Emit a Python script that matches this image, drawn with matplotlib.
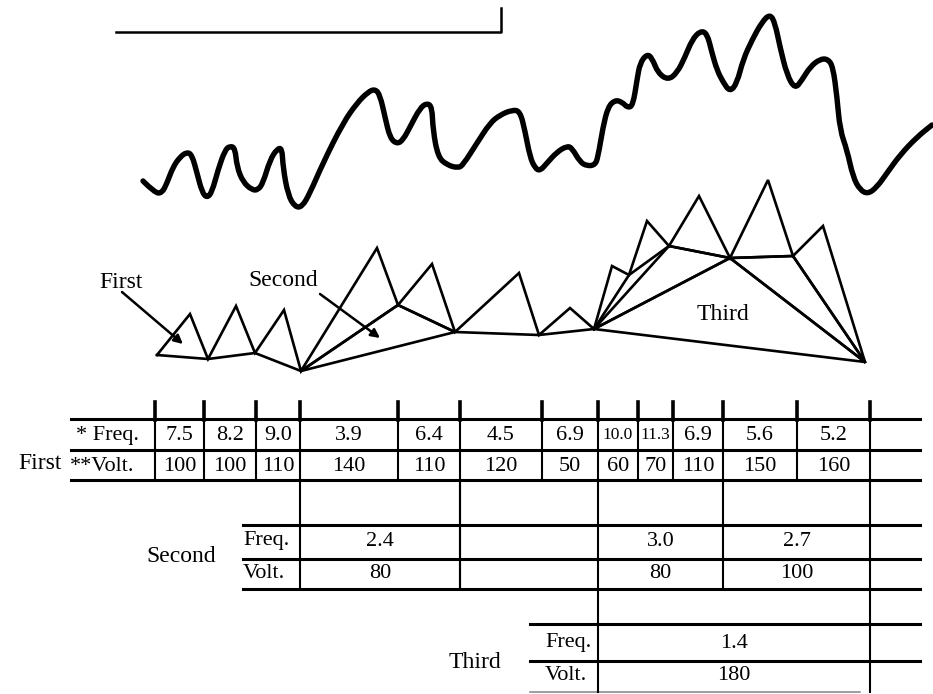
import matplotlib
matplotlib.use("Agg")
import matplotlib.pyplot as plt
from matplotlib.path import Path
from matplotlib.patches import PathPatch

plt.rcParams['font.family'] = ['Liberation Serif', 'DejaVu Serif']

# traced EEG waveform (pixel coordinates of the page)
wave_x = [143, 155, 162, 167, 173, 180, 187, 192, 197, 202, 207, 212, 218, 225, 230, 235,
          237, 243, 252, 258, 263, 270, 277, 282, 283, 288, 295, 302, 310, 323, 343, 357,
          368, 375, 380, 385, 390, 397, 403, 410, 420, 427, 432, 433, 438, 447, 458, 463,
          477, 490, 500, 512, 520, 525, 530, 535, 540, 547, 557, 567, 572, 580, 587, 595,
          598, 603, 608, 615, 622, 628, 633, 637, 640, 647, 652, 658, 668, 677, 685, 692,
          700, 707, 712, 717, 723, 730, 737, 743, 752, 762, 770, 775, 780, 787, 795, 802,
          810, 820, 828, 833, 837, 840, 847, 853, 860, 868, 877, 887, 900, 917, 932]
wave_y = [181, 193, 193, 183, 167, 157, 152, 155, 173, 192, 198, 192, 170, 150, 146, 148,
          167, 182, 190, 190, 183, 160, 149, 148, 167, 195, 207, 207, 193, 163, 123, 103,
          92, 89, 95, 117, 138, 144, 140, 127, 108, 103, 107, 130, 157, 165, 168, 165,
          143, 123, 115, 110, 111, 131, 157, 168, 171, 163, 152, 146, 148, 162, 166, 165,
          157, 127, 107, 100, 102, 108, 105, 80, 63, 54, 58, 73, 80, 73, 57, 40,
          31, 33, 53, 70, 82, 92, 83, 60, 40, 22, 14, 23, 47, 75, 89, 80,
          67, 59, 59, 67, 97, 130, 150, 177, 190, 194, 187, 173, 155, 137, 125]

# first-level zigzag: valley, peak, valley, ... (13 valleys, 12 peaks)
zig_x = [157, 190, 208, 236, 255, 284, 301, 377, 398, 432, 455, 519, 539,
         570, 594, 612, 629, 647, 669, 699, 730, 768, 793, 823, 865]
zig_y = [355, 314, 359, 306, 353, 310, 371, 248, 305, 264, 332, 273, 335,
         308, 329, 266, 275, 221, 246, 196, 258, 180, 256, 226, 362]

# higher-level waves as (start, apex, end) valley indices
second_waves = [(3, 4, 5), (7, 9, 10), (10, 11, 12)]
third_waves = [(7, 10, 12)]

# table
edges = [155, 204, 256, 300, 398, 460, 542, 598, 638, 673, 723, 797, 870]
first_freq = ['7.5', '8.2', '9.0', '3.9', '6.4', '4.5', '6.9', '10.0', '11.3', '6.9', '5.6', '5.2']
first_volt = ['100', '100', '110', '140', '110', '120', '50', '60', '70', '110', '150', '160']
second_freq = ['2.4', '3.0', '2.7']
second_volt = ['80', '80', '100']
third_freq = ['1.4']
third_volt = ['180']

fig = plt.figure(figsize=(9.33, 6.94), dpi=100)
ax = fig.add_axes([0, 0, 1, 1])
ax.set_xlim(0, 933)
ax.set_ylim(694, 0)
ax.axis('off')
k = 'black'

# scale bar
ax.plot([116, 501, 501], [32, 32, 8], color=k, lw=1.8)

# waveform, drawn as a smooth quadratic path through the traced points
pts = list(zip(wave_x, wave_y))
verts, codes = [pts[0]], [Path.MOVETO]
for p, q in zip(pts[1:-1], pts[2:]):
    verts += [p, ((p[0] + q[0]) / 2, (p[1] + q[1]) / 2)]
    codes += [Path.CURVE3, Path.CURVE3]
verts.append(pts[-1])
codes.append(Path.LINETO)
ax.add_patch(PathPatch(Path(verts, codes), fill=False, edgecolor=k, lw=3.9,
                       joinstyle='round', capstyle='round'))

# first level triangles and bases
tri = dict(color=k, lw=1.9, solid_joinstyle='miter')
ax.plot(zig_x, zig_y, **tri)
ax.plot(zig_x[::2], zig_y[::2], **tri)
vx, vy = zig_x[::2], zig_y[::2]
for waves in (second_waves, third_waves):
    for a, b, c in waves:
        ax.plot([vx[a], vx[b], vx[c], vx[a]], [vy[a], vy[b], vy[c], vy[a]], **tri)

lab = dict(fontsize=17, ha='center', va='center')
ax.text(121, 282, 'First', **lab)
ax.text(283, 280, 'Second', **lab)
ax.text(723, 314, 'Third', **lab)
arr = dict(arrowstyle='-|>', color=k, lw=1.8, mutation_scale=13, shrinkA=0, shrinkB=0)
ax.annotate('', xy=(183, 344), xytext=(122, 292), arrowprops=arr)
ax.annotate('', xy=(380, 338), xytext=(320, 294), arrowprops=arr)

# ---- table ----
hl = dict(color=k, lw=2.2)
vl = dict(color=k, lw=1.5)
rows1 = [419, 450, 480]
rows2 = [525, 559, 589]
rows3 = [624, 661, 692]
for y in rows1:
    ax.plot([71, 920], [y, y], **hl)
for y in rows2:
    ax.plot([243, 920], [y, y], **hl)
for y in rows3[:2]:
    ax.plot([530, 920], [y, y], **hl)
ax.plot([530, 860], [rows3[2], rows3[2]], color='0.55', lw=1.2)

for x in edges:
    ax.plot([x, x], [402, 420], color=k, lw=2.6)
    ax.plot([x, x], [419, 480], **vl)
second_bounds = sorted({edges[a] for a, b, c in second_waves} | {edges[c] for a, b, c in second_waves})
third_bounds = {edges[a] for a, b, c in third_waves} | {edges[c] for a, b, c in third_waves}
second_bounds.insert(2, edges[5])
for x in second_bounds:
    ax.plot([x, x], [480, 692 if x in third_bounds else rows2[2]], **vl)

cell = dict(ha='center', va='center', fontsize=16)
for i, (f, v) in enumerate(zip(first_freq, first_volt)):
    cx = (edges[i] + edges[i + 1]) / 2
    fs = 12.5 if len(f) > 3 else 16
    ax.text(cx, 435, f, ha='center', va='center', fontsize=fs)
    ax.text(cx, 466, v, **cell)
for (a, b, c), f, v in zip(second_waves, second_freq, second_volt):
    cx = (edges[a] + edges[c]) / 2
    ax.text(cx, 541, f, **cell)
    ax.text(cx, 573, v, **cell)
for (a, b, c), f, v in zip(third_waves, third_freq, third_volt):
    cx = (edges[a] + edges[c]) / 2
    ax.text(cx, 643, f, **cell)
    ax.text(cx, 676, v, **cell)

rl = dict(ha='left', va='center', fontsize=16)
ax.text(76, 435, '* Freq.', **rl)
ax.text(70, 466, '**Volt.', **rl)
ax.text(243, 541, 'Freq.', **rl)
ax.text(243, 573, 'Volt.', **rl)
ax.text(545, 642, 'Freq.', **rl)
ax.text(545, 676, 'Volt.', **rl)
ax.text(40, 463, 'First', fontsize=17, ha='center', va='center')
ax.text(181, 556, 'Second', fontsize=17, ha='center', va='center')
ax.text(475, 663, 'Third', fontsize=17, ha='center', va='center')

fig.savefig('out.png', dpi=100)
